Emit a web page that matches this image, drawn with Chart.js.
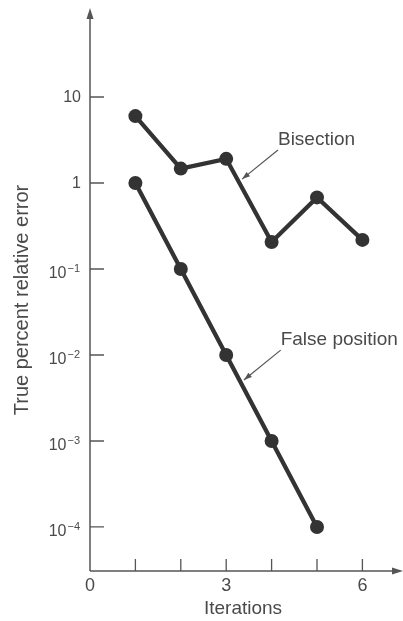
<!DOCTYPE html>
<html>
<head>
<meta charset="utf-8">
<title>True percent relative error</title>
<script src="https://cdn.jsdelivr.net/npm/chart.js@4"></script>
<style>
  body { margin: 0; background: #fff; }
  canvas { display: block; }
</style>
</head>
<body>
<canvas id="myChart" width="403" height="621"></canvas>
<script>
// values
var iterations = [1, 2, 3, 4, 5, 6];
var bisectionError = [6.0, 1.47, 1.91, 0.206, 0.68, 0.218];
var falsePosIterations = [1, 2, 3, 4, 5];
var falsePosError = [1, 0.1, 0.01, 0.001, 0.0001];

var yTickValues = [10, 1, 0.1, 0.01, 0.001, 0.0001];
var yTickBase = ['10', '1', '10', '10', '10', '10'];
var yTickExp = ['', '', '\u22121', '\u22122', '\u22123', '\u22124'];
var xTickLabels = [0, 3, 6];
var xTickMarks = [1, 2, 3, 4, 5, 6];

// callouts: label text, where the label sits, and where its arrow points (data units)
var callouts = [
  { text: 'Bisection', at: [4.14, 3.16], from: [4.14, 2.42], to: [3.35, 1.11] },
  { text: 'False position', at: [4.20, 0.0149], from: [4.20, 0.0114], to: [3.39, 0.00513] }
];

var ink = '#333';
var textCol = '#4a4a4a';
var fam = '"Liberation Sans", Arial, Helvetica, sans-serif';

function toPoints(xs, ys) {
  return xs.map(function (x, i) { return { x: x, y: ys[i] }; });
}

function arrowHead(ctx, x1, y1, x2, y2, len, half) {
  var a = Math.atan2(y2 - y1, x2 - x1);
  ctx.beginPath();
  ctx.moveTo(x2, y2);
  ctx.lineTo(x2 - len * Math.cos(a) + half * Math.sin(a), y2 - len * Math.sin(a) - half * Math.cos(a));
  ctx.lineTo(x2 - len * Math.cos(a) - half * Math.sin(a), y2 - len * Math.sin(a) + half * Math.cos(a));
  ctx.closePath();
  ctx.fill();
}

var axesPlugin = {
  id: 'bookAxes',
  beforeDatasetsDraw: function (chart) {
    var ctx = chart.ctx, xs = chart.scales.x, ys = chart.scales.y;
    var x0 = xs.getPixelForValue(0), yb = chart.chartArea.bottom;
    ctx.save();
    ctx.strokeStyle = '#555';
    ctx.fillStyle = '#555';
    ctx.lineWidth = 1.5;
    // axes with arrows
    ctx.beginPath();
    ctx.moveTo(x0, yb);
    ctx.lineTo(x0, 12);
    ctx.moveTo(x0, yb);
    ctx.lineTo(398, yb);
    ctx.stroke();
    arrowHead(ctx, x0, 100, x0, 8, 11, 3.5);
    arrowHead(ctx, 90, yb, 403, yb, 11, 3.5);
    // inward ticks
    ctx.lineWidth = 1.3;
    ctx.beginPath();
    yTickValues.forEach(function (v) {
      var y = ys.getPixelForValue(v);
      ctx.moveTo(x0, y);
      ctx.lineTo(x0 + 14, y);
    });
    xTickMarks.forEach(function (v) {
      var x = xs.getPixelForValue(v);
      ctx.moveTo(x, yb);
      ctx.lineTo(x, yb - 12);
    });
    ctx.stroke();
    // y tick labels with superscripts
    ctx.fillStyle = textCol;
    ctx.textAlign = 'right';
    yTickValues.forEach(function (v, i) {
      var y = ys.getPixelForValue(v);
      if (yTickExp[i]) {
        ctx.font = '11px ' + fam;
        ctx.textBaseline = 'alphabetic';
        var ew = ctx.measureText(yTickExp[i]).width;
        ctx.fillText(yTickExp[i], 80, y + 3);
        ctx.font = '16px ' + fam;
        ctx.fillText(yTickBase[i], 80 - ew - 1, y + 9);
      } else {
        ctx.font = '16px ' + fam;
        ctx.textBaseline = 'middle';
        ctx.fillText(yTickBase[i], 81, y + 1);
      }
    });
    // y axis title
    ctx.save();
    ctx.translate(22, 300);
    ctx.rotate(-Math.PI / 2);
    ctx.font = '20px ' + fam;
    ctx.textAlign = 'center';
    ctx.textBaseline = 'middle';
    ctx.fillText('True percent relative error', 0, 0);
    ctx.restore();
    ctx.restore();
  },
  afterDraw: function (chart) {
    var ctx = chart.ctx, xs = chart.scales.x, ys = chart.scales.y;
    ctx.save();
    callouts.forEach(function (c) {
      ctx.font = '19px ' + fam;
      ctx.fillStyle = textCol;
      ctx.textAlign = 'left';
      ctx.textBaseline = 'middle';
      ctx.fillText(c.text, xs.getPixelForValue(c.at[0]), ys.getPixelForValue(c.at[1]));
      var x1 = xs.getPixelForValue(c.from[0]), y1 = ys.getPixelForValue(c.from[1]);
      var x2 = xs.getPixelForValue(c.to[0]), y2 = ys.getPixelForValue(c.to[1]);
      ctx.strokeStyle = '#555';
      ctx.fillStyle = '#555';
      ctx.lineWidth = 1.2;
      ctx.beginPath();
      ctx.moveTo(x1, y1);
      ctx.lineTo(x2, y2);
      ctx.stroke();
      arrowHead(ctx, x1, y1, x2, y2, 8, 2.8);
    });
    ctx.restore();
  }
};

var seriesStyle = {
  borderColor: ink,
  backgroundColor: ink,
  borderWidth: 4.3,
  pointRadius: 7,
  pointBackgroundColor: ink,
  pointBorderWidth: 0,
  tension: 0,
  fill: false
};

var ctx = document.getElementById('myChart').getContext('2d');
var myChart = new Chart(ctx, {
  type: 'line',
  data: {
    datasets: [
      Object.assign({ label: 'Bisection', data: toPoints(iterations, bisectionError) }, seriesStyle),
      Object.assign({ label: 'False position', data: toPoints(falsePosIterations, falsePosError) }, seriesStyle)
    ]
  },
  options: {
    responsive: false,
    animation: false,
    devicePixelRatio: 1,
    layout: { padding: { top: 16, right: 5, left: 0, bottom: 0 } },
    plugins: { legend: { display: false }, tooltip: { enabled: false } },
    scales: {
      x: {
        type: 'linear',
        min: 0,
        max: 6.74,
        grid: { display: false, drawTicks: false },
        border: { display: false },
        afterBuildTicks: function (s) { s.ticks = xTickLabels.map(function (v) { return { value: v }; }); },
        afterFit: function (s) { s.height = 50; },
        ticks: { color: textCol, font: { family: fam, size: 18 }, padding: 4, maxRotation: 0 },
        title: { display: true, text: 'Iterations', color: textCol, font: { family: fam, size: 19 }, padding: { top: 0, bottom: 1 } }
      },
      y: {
        type: 'logarithmic',
        min: Math.pow(10, -4.512),
        max: Math.pow(10, 1.942),
        grid: { display: false, drawTicks: false },
        border: { display: false },
        afterBuildTicks: function (s) { s.ticks = yTickValues.map(function (v) { return { value: v }; }); },
        afterFit: function (s) { s.width = 90; },
        ticks: { display: false }
      }
    }
  },
  plugins: [axesPlugin]
});
</script>
</body>
</html>
